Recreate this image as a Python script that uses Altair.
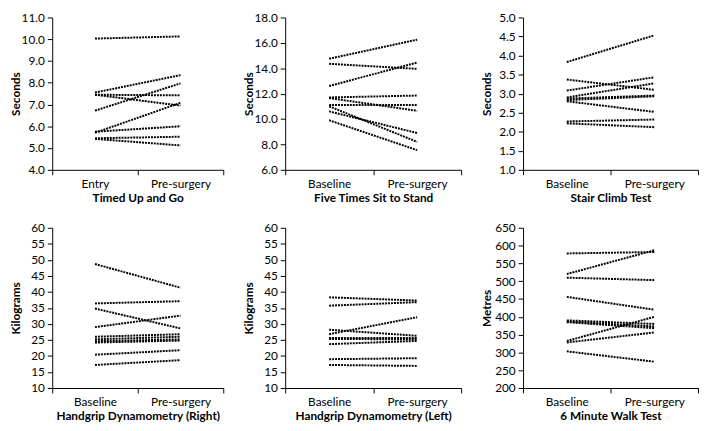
import altair as alt
import pandas as pd

# ---- data ----
tug_cats = ["Entry", "Pre-surgery"]
tug_before = [10.03, 7.55, 6.72, 7.45, 7.45, 5.70, 5.75, 5.45, 5.42]
tug_after = [10.13, 8.35, 7.97, 7.42, 6.95, 7.08, 6.00, 5.52, 5.12]

sts_cats = ["Baseline", "Pre-surgery"]
sts_before = [14.75, 14.35, 12.60, 11.70, 11.65, 11.10, 11.00, 10.60, 9.90]
sts_after = [16.25, 13.95, 14.45, 11.85, 10.65, 11.10, 8.20, 8.90, 7.55]

sct_cats = ["Baseline", "Pre-surgery"]
sct_before = [3.83, 3.37, 3.08, 2.90, 2.87, 2.83, 2.80, 2.27, 2.22]
sct_after = [4.53, 3.10, 3.43, 3.27, 2.95, 2.93, 2.52, 2.32, 2.12]

hgr_cats = ["Baseline", "Pre-surgery"]
hgr_before = [48.7, 36.4, 34.8, 29.0, 26.0, 25.2, 24.6, 24.2, 20.4, 17.2]
hgr_after = [41.3, 37.1, 28.6, 32.6, 26.8, 26.0, 25.2, 24.8, 21.8, 18.7]

hgl_cats = ["Baseline", "Pre-surgery"]
hgl_before = [38.3, 35.7, 26.8, 28.2, 25.6, 25.3, 23.7, 19.0, 17.2]
hgl_after = [37.3, 36.8, 32.1, 26.3, 25.6, 25.2, 24.7, 19.3, 16.9]

mwt_cats = ["Baseline", "Pre-surgery"]
mwt_before = [578, 520, 510, 456, 390, 387, 385, 332, 328, 303]
mwt_after = [582, 587, 503, 420, 380, 373, 368, 400, 356, 274]

FONT = "Lato"


def panel(cats, before, after, ytitle, xtitle, domain, ticks, fmt, w, h):
    rows = []
    for i, (a, b) in enumerate(zip(before, after)):
        rows.append({"id": i, "time": cats[0], "value": a})
        rows.append({"id": i, "time": cats[1], "value": b})
    df = pd.DataFrame(rows)
    return (
        alt.Chart(df)
        .mark_line(color="black", strokeWidth=2, strokeDash=[2, 1])
        .encode(
            x=alt.X(
                "time:N",
                sort=cats,
                scale=alt.Scale(type="band", domain=cats, paddingInner=0, paddingOuter=0),
                axis=alt.Axis(
                    title=xtitle,
                    labelAngle=0,
                    tickBand="extent",
                    tickSize=5,
                    labelPadding=4,
                    titlePadding=3,
                ),
            ),
            y=alt.Y(
                "value:Q",
                scale=alt.Scale(domain=domain, nice=False, zero=False),
                axis=alt.Axis(
                    title=ytitle,
                    values=ticks,
                    format=fmt,
                    grid=False,
                    tickSize=5,
                    labelPadding=3,
                    minExtent=28,
                    maxExtent=28,
                    titlePadding=2,
                ),
            ),
            detail="id:N",
        )
        .properties(width=w, height=h)
    )


H1, H2 = 155, 163
p1 = panel(tug_cats, tug_before, tug_after, "Seconds", "Timed Up and Go",
           [4, 11], [4, 5, 6, 7, 8, 9, 10, 11], ".1f", 174, H1)
p2 = panel(sts_cats, sts_before, sts_after, "Seconds", "Five Times Sit to Stand",
           [6, 18], [6, 8, 10, 12, 14, 16, 18], ".1f", 179, H1)
p3 = panel(sct_cats, sct_before, sct_after, "Seconds", "Stair Climb Test",
           [1, 5], [1, 1.5, 2, 2.5, 3, 3.5, 4, 4.5, 5], ".1f", 178, H1)
p4 = panel(hgr_cats, hgr_before, hgr_after, "Kilograms", "Handgrip Dynamometry (Right)",
           [10, 60], [10, 15, 20, 25, 30, 35, 40, 45, 50, 55, 60], "d", 174, H2)
p5 = panel(hgl_cats, hgl_before, hgl_after, "Kilograms", "Handgrip Dynamometry (Left)",
           [10, 60], [10, 15, 20, 25, 30, 35, 40, 45, 50, 55, 60], "d", 179, H2)
p6 = panel(mwt_cats, mwt_before, mwt_after, "Metres", "6 Minute Walk Test",
           [200, 650], [200, 250, 300, 350, 400, 450, 500, 550, 600, 650], "d", 178, H2)

row1 = alt.hconcat(p1, p2, p3, spacing=19)
row2 = alt.hconcat(p4, p5, p6, spacing=19)

chart = (
    alt.vconcat(row1, row2, spacing=19)
    .properties(padding={"left": 2, "top": 0, "right": 0, "bottom": 0}, background="white")
    .configure_view(stroke=None)
    .configure_axis(
        domainColor="black",
        tickColor="black",
        labelColor="black",
        titleColor="black",
        labelFont=FONT,
        titleFont=FONT,
        labelFontSize=12,
        titleFontSize=12,
        titleFontWeight="bold",
        domainWidth=1,
        tickWidth=1,
    )
)

chart.save("out.html", embed_options={"renderer": "svg", "actions": False})
